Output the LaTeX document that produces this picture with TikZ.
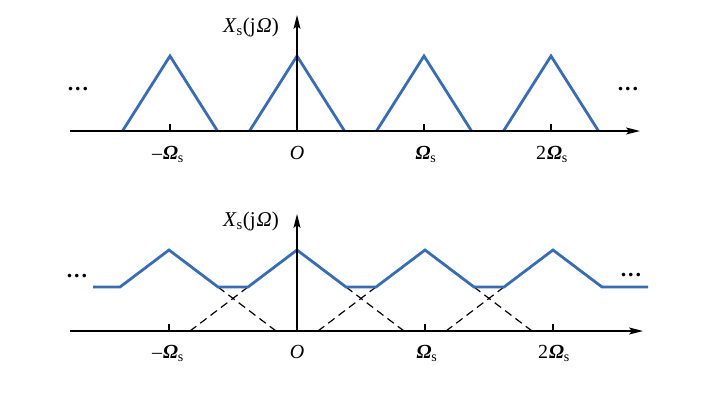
\documentclass[tikz,border=0pt]{standalone}
\usepackage{fontspec}
\setmainfont{Liberation Serif}
\usetikzlibrary{arrows.meta}
\definecolor{specblue}{RGB}{58,108,180}
\begin{document}
\begin{tikzpicture}[x=1pt,y=-1pt,
  axisline/.style={line width=1.3pt,black},
  axisarrow/.style={axisline,-{Stealth[length=14pt,width=7pt,inset=3pt]}},
  spec/.style={line width=2.8pt,specblue,line join=miter},
  hidden/.style={line width=1.2pt,black,dash pattern=on 8pt off 5pt},
  ticklab/.style={font=\fontsize{20}{22}\selectfont,anchor=base,inner sep=0pt},
  ylab/.style={font=\fontsize{21}{24}\selectfont,inner sep=0pt},
  dotslab/.style={font=\fontsize{22}{24}\selectfont\bfseries,inner sep=0pt}]
\useasboundingbox (0,0) rectangle (720,408);
\fill[white] (0,0) rectangle (720,408);
\newcommand{\Om}{\textbf{\textit{Ω}}}
% ---------- top plot ----------
\coordinate (t0) at (70,131);
\coordinate (t1) at (640,131);
\coordinate (tv0) at (297,131);
\coordinate (tv1) at (297,15);
\foreach \c in {170,297,424,551}{
  \draw[spec] (\c-47.5,131) -- (\c,56) -- (\c+47.5,131);
}
\draw[axisarrow] (t0) -- (t1);
\draw[axisarrow] (tv0) -- (tv1);
\foreach \c in {170,424,551}{
  \draw[axisline] (\c,131) -- (\c,124);
}
\node[ticklab] (tl1) at (168,159) {–\kern1pt\Om\textsubscript{s}};
\node[ticklab] (tl2) at (297,159) {\textit{O}};
\node[ticklab] (tl3) at (426,159) {\Om\textsubscript{s}};
\node[ticklab] (tl4) at (552,159) {2\kern1pt\Om\textsubscript{s}};
\node[ylab] (ty) at (251,27) {\textit{X}\textsubscript{s}(j\kern1pt\textit{Ω})};
\node[dotslab] (td1) at (78,89) {.\kern2pt.\kern2pt.};
\node[dotslab] (td2) at (628,89) {.\kern2pt.\kern2pt.};
% ---------- bottom plot ----------
\coordinate (b0) at (70,331);
\coordinate (b1) at (643,331);
\coordinate (bv0) at (297,331);
\coordinate (bv1) at (297,214);
% dashed hidden parts of overlapping triangles
\draw[hidden] (169+49,287) -- (169+107,331);
\draw[hidden] (297-49,287) -- (297-107,331);
\draw[hidden] (297+49,287) -- (297+107,331);
\draw[hidden] (425-49,287) -- (425-107,331);
\draw[hidden] (425+49,287) -- (425+107,331);
\draw[hidden] (553-49,287) -- (553-107,331);
\draw[spec] (93,287) -- (120,287) -- (169,250) -- (218,287) -- (248,287)
  -- (297,250) -- (346,287) -- (376,287) -- (425,250) -- (474,287)
  -- (504,287) -- (553,250) -- (602,287) -- (648,287);
\draw[axisarrow] (b0) -- (b1);
\draw[axisarrow] (bv0) -- (bv1);
\foreach \c in {169,425,553}{
  \draw[axisline] (\c,331) -- (\c,324);
}
\node[ticklab] (bl1) at (168,358) {–\kern1pt\Om\textsubscript{s}};
\node[ticklab] (bl2) at (297,358) {\textit{O}};
\node[ticklab] (bl3) at (427,358) {\Om\textsubscript{s}};
\node[ticklab] (bl4) at (554,358) {2\kern1pt\Om\textsubscript{s}};
\node[ylab] (by) at (251,221) {\textit{X}\textsubscript{s}(j\kern1pt\textit{Ω})};
\node[dotslab] (bd1) at (77,276) {.\kern2pt.\kern2pt.};
\node[dotslab] (bd2) at (631,275) {.\kern2pt.\kern2pt.};
\end{tikzpicture}
\end{document}
